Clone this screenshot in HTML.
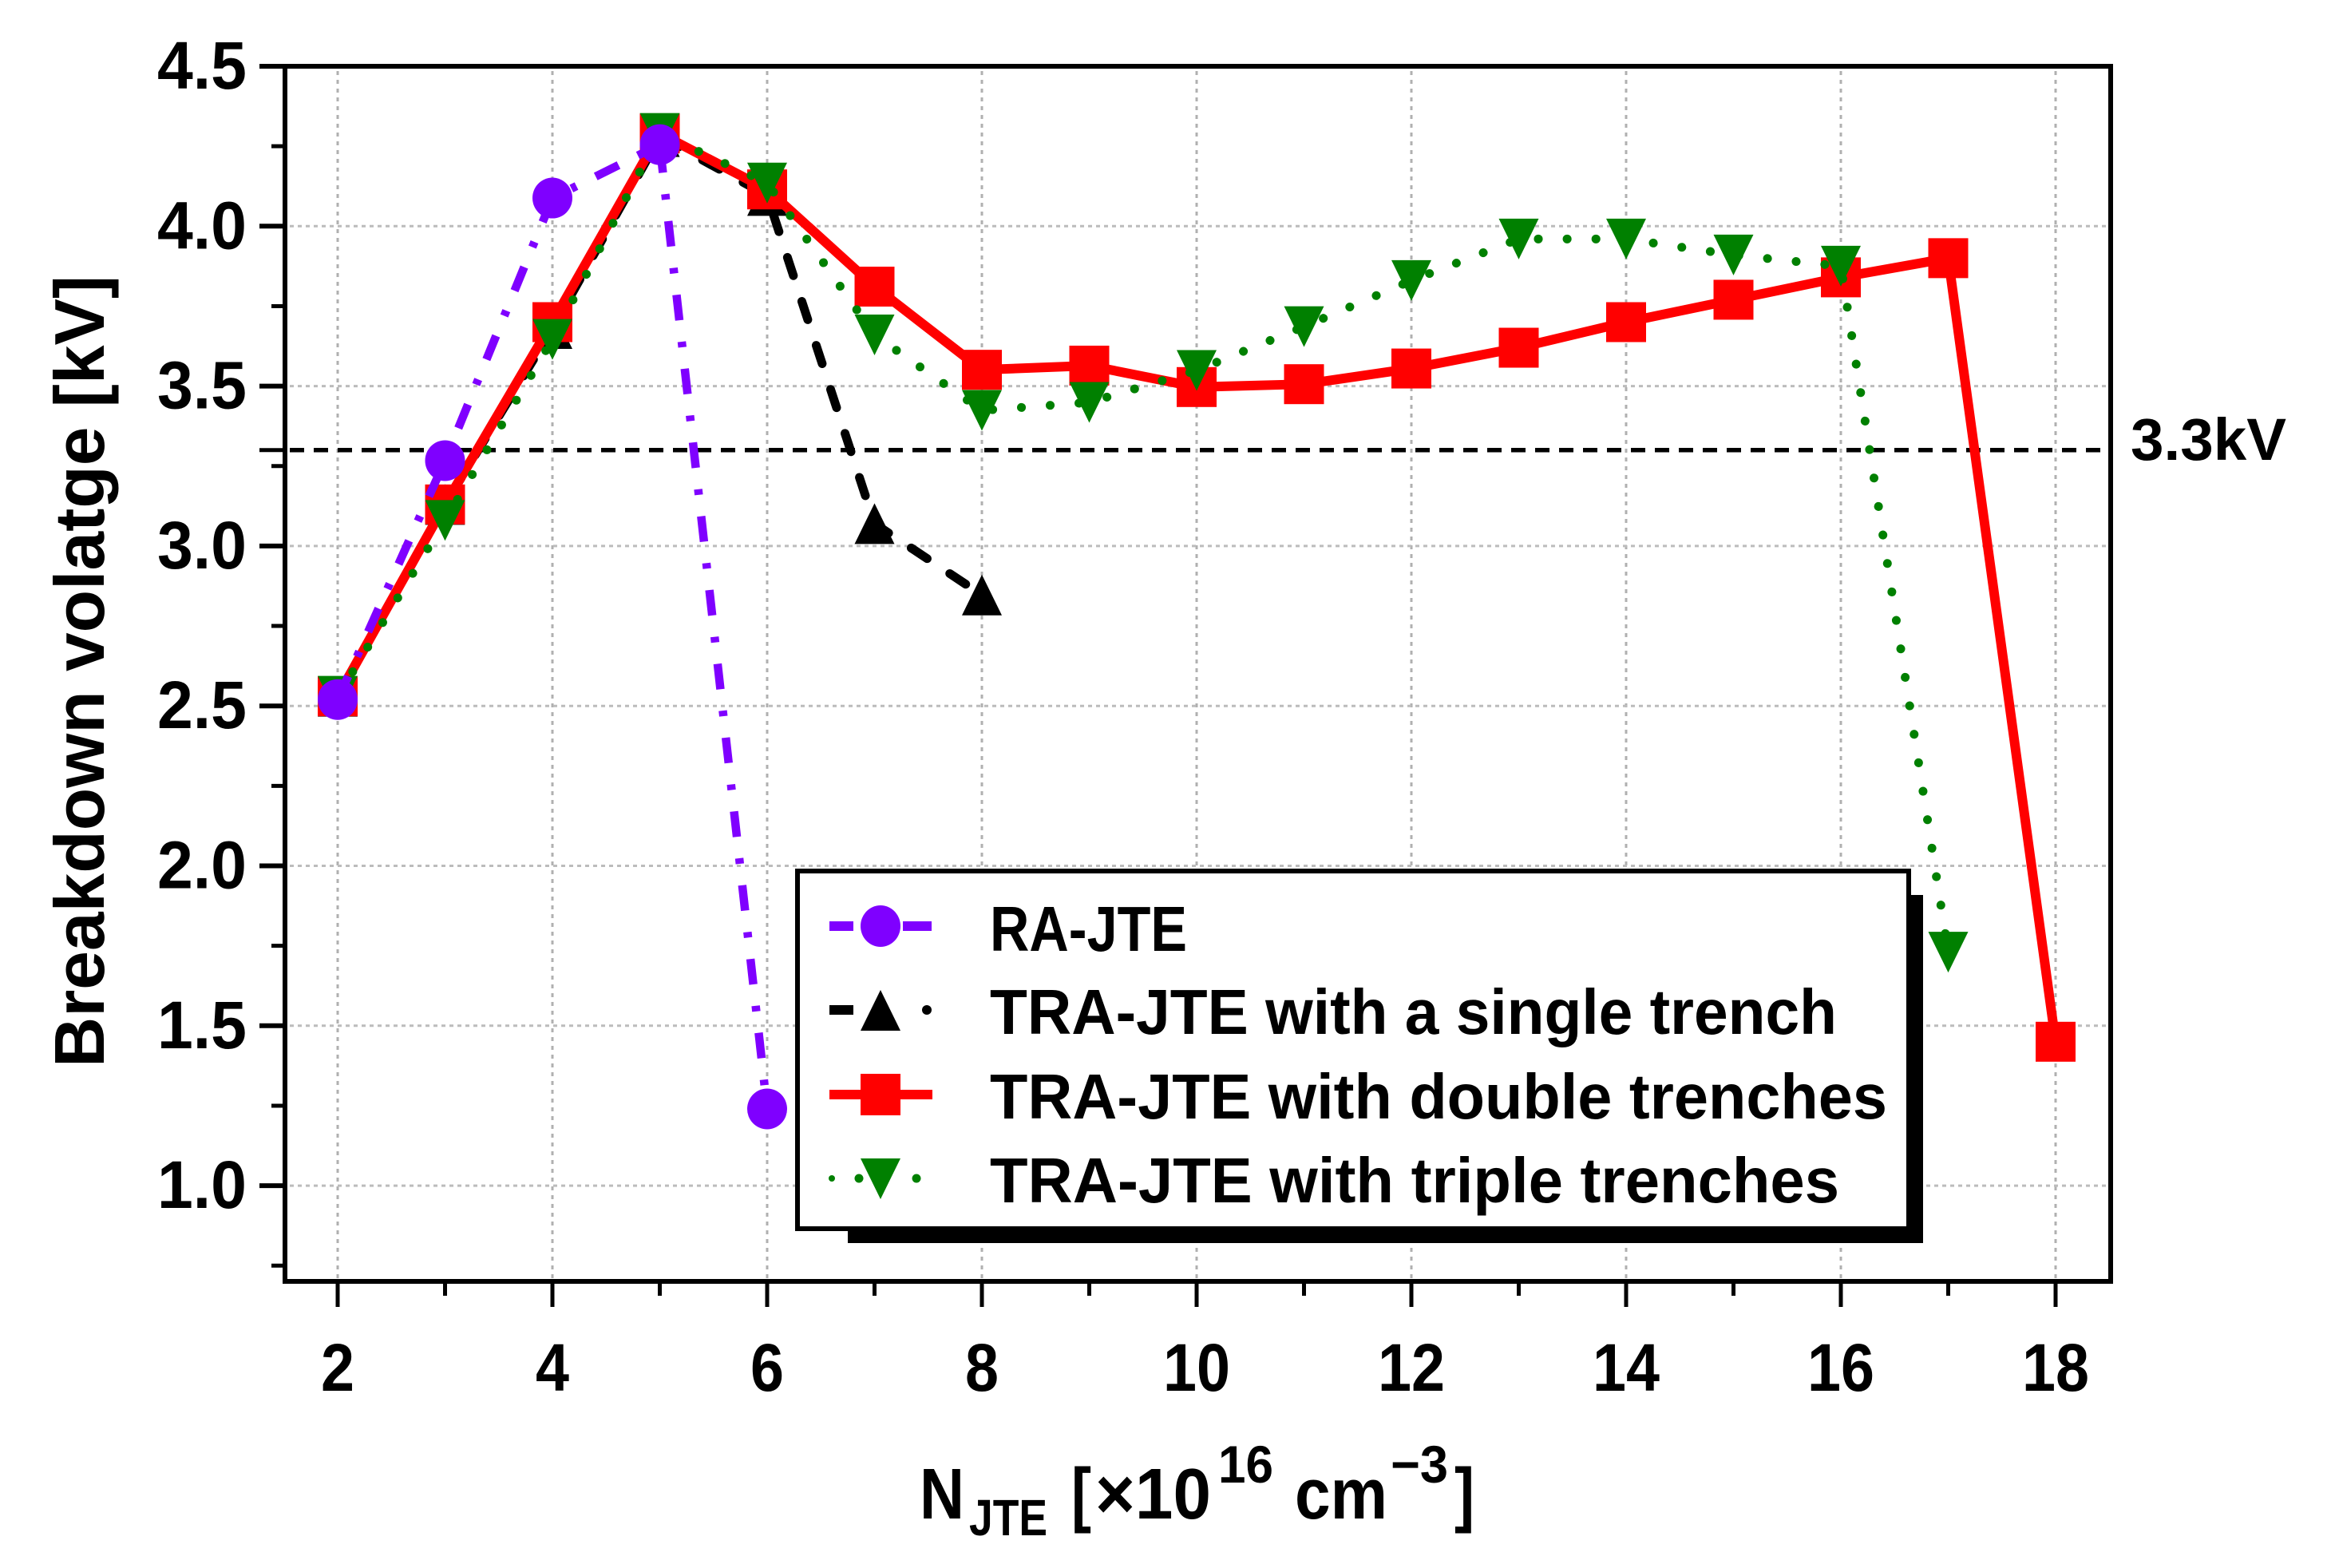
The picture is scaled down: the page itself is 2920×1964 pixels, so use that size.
<!DOCTYPE html>
<html lang="en">
<head>
<meta charset="utf-8">
<title>Breakdown voltage vs NJTE</title>
<style>
html,body{margin:0;padding:0;background:#fff;}
svg{display:block;}
text{font-family:"Liberation Sans",sans-serif;font-weight:700;fill:#000;}
</style>
</head>
<body>
<svg id="chart" xmlns="http://www.w3.org/2000/svg" width="2920" height="1964" viewBox="0 0 2920 1964">
  <rect x="0" y="0" width="2920" height="1964" fill="#fff"/>
  <g id="grid"></g>
  <g id="refline"></g>
  <g id="series"></g>
  <g id="axes"></g>

  <text transform="translate(130 1337) rotate(-90)" font-size="88" textLength="992" lengthAdjust="spacingAndGlyphs">Breakdown volatge [kV]</text>

  <g>
    <text x="1152" y="1902" font-size="90" textLength="56" lengthAdjust="spacingAndGlyphs">N</text>
    <text x="1214" y="1923" font-size="64" textLength="98" lengthAdjust="spacingAndGlyphs">JTE</text>
    <text x="1342" y="1902" font-size="90" textLength="25" lengthAdjust="spacingAndGlyphs">[</text>
    <text x="1372" y="1902" font-size="90" textLength="145" lengthAdjust="spacingAndGlyphs">×10</text>
    <text x="1526" y="1857" font-size="66" textLength="69" lengthAdjust="spacingAndGlyphs">16</text>
    <text x="1622" y="1902" font-size="90" textLength="116" lengthAdjust="spacingAndGlyphs">cm</text>
    <text x="1742" y="1857" font-size="66" textLength="72" lengthAdjust="spacingAndGlyphs">−3</text>
    <text x="1822" y="1902" font-size="90" textLength="25" lengthAdjust="spacingAndGlyphs">]</text>
  </g>

  <text x="2669" y="576" font-size="74" textLength="195" lengthAdjust="spacingAndGlyphs">3.3kV</text>

  <g>
    <rect x="1062" y="1121" width="1347" height="436" fill="#000"/>
    <rect x="999" y="1091" width="1392" height="448" fill="#fff" stroke="#000" stroke-width="6"/>

    <g>
      <line x1="1039" y1="1160" x2="1167" y2="1160" stroke="#7f00ff" stroke-width="12" stroke-dasharray="30 62 36"/>
      <ellipse cx="1103" cy="1160" rx="25" ry="26" fill="#7f00ff"/>
      <text x="1240" y="1191" font-size="80" textLength="247" lengthAdjust="spacingAndGlyphs">RA-JTE</text>
    </g>
    <g>
      <line x1="1039" y1="1265" x2="1167" y2="1265" stroke="#000" stroke-width="12" stroke-dasharray="30 115 8"/>
      <polygon points="1103,1240 1128,1291 1078,1291" fill="#000"/>
      <circle cx="1161" cy="1265" r="6" fill="#000"/>
      <text x="1240" y="1295" font-size="80" textLength="1061" lengthAdjust="spacingAndGlyphs">TRA-JTE with a single trench</text>
    </g>
    <g>
      <line x1="1039" y1="1371" x2="1168" y2="1371" stroke="#f00" stroke-width="12"/>
      <rect x="1078" y="1345" width="50" height="52" fill="#f00"/>
      <text x="1240" y="1401" font-size="80" textLength="1124" lengthAdjust="spacingAndGlyphs">TRA-JTE with double trenches</text>
    </g>
    <g>
      <circle cx="1042" cy="1476" r="4" fill="#008000"/>
      <circle cx="1076" cy="1476" r="5.5" fill="#008000"/>
      <circle cx="1148" cy="1476" r="5.5" fill="#008000"/>
      <polygon points="1078,1451 1128,1451 1103,1502" fill="#008000"/>
      <text x="1240" y="1506" font-size="80" textLength="1064" lengthAdjust="spacingAndGlyphs">TRA-JTE with triple trenches</text>
    </g>
  </g>
</svg>

<script>
const xMajorTicks = [2, 4, 6, 8, 10, 12, 14, 16, 18];
const xMinorTicks = [3, 5, 7, 9, 11, 13, 15, 17];
const yMajorTicks = [1.0, 1.5, 2.0, 2.5, 3.0, 3.5, 4.0, 4.5];
const yMajorLabels = ["1.0", "1.5", "2.0", "2.5", "3.0", "3.5", "4.0", "4.5"];
const yMinorTicks = [0.75, 1.25, 1.75, 2.25, 2.75, 3.25, 3.75, 4.25];
const referenceVoltage = [3.3];

const raJteX = [2, 3, 4, 5, 6];
const raJteV = [2.52, 3.267, 4.088, 4.255, 1.24];
const singleX = [2, 3, 4, 5, 6, 7, 8];
const singleV = [2.53, 3.13, 3.68, 4.28, 4.096, 3.07, 2.847];
const doubleX = [2, 3, 4, 5, 6, 7, 8, 9, 10, 11, 12, 13, 14, 15, 16, 17, 18];
const doubleV = [2.53, 3.13, 3.70, 4.29, 4.115, 3.811, 3.551, 3.564, 3.497, 3.506, 3.555, 3.62, 3.70, 3.77, 3.84, 3.90, 1.45];
const tripleX = [2, 3, 4, 5, 6, 7, 8, 9, 10, 11, 12, 13, 14, 15, 16, 17];
const tripleV = [2.53, 3.08, 3.646, 4.29, 4.135, 3.66, 3.424, 3.449, 3.549, 3.686, 3.83, 3.96, 3.96, 3.91, 3.875, 1.73];

const NS = 'http://www.w3.org/2000/svg';
const plotLeft = 357, plotRight = 2644, plotTop = 83, plotBottom = 1605;
function xScale(n) { return 423 + (n - 2) * 134.5; }
function yScale(v) { return 83 + (4.5 - v) * 400.6; }
function make(tag, parent) {
  const el = document.createElementNS(NS, tag);
  parent.appendChild(el);
  return el;
}
function setLine(el, x1, y1, x2, y2, stroke, width, dash) {
  el.setAttribute('x1', x1);
  el.setAttribute('y1', y1);
  el.setAttribute('x2', x2);
  el.setAttribute('y2', y2);
  el.setAttribute('stroke', stroke);
  el.setAttribute('stroke-width', width);
  if (dash) el.setAttribute('stroke-dasharray', dash);
}
const gridG = document.getElementById('grid');
const refG = document.getElementById('refline');
const seriesG = document.getElementById('series');
const axesG = document.getElementById('axes');

xMajorTicks.forEach(function (n) {
  const el = make('line', gridG);
  
  
  setLine(el, xScale(n), plotTop + 6, xScale(n), plotBottom - 3, '#b0b0b0', 3, '5 6');
});
yMajorTicks.forEach(function (v) {
  const el = make('line', gridG);
  
  
  setLine(el, plotLeft + 6, yScale(v), plotRight - 6, yScale(v), '#bcbcbc', 3, '5 5');
});

referenceVoltage.forEach(function (v) {
  const el = make('line', refG);
  
  
  setLine(el, plotLeft + 6, yScale(v), 2631, yScale(v), '#000', 5.5, '18 12');
});

function drawPath(xs, vs, name, stroke, width, dash, cap) {
  const el = make('polyline', seriesG);
  
  
  el.setAttribute('points', xs.map(function (n, i) { return xScale(n) + ',' + yScale(vs[i]); }).join(' '));
  el.setAttribute('fill', 'none');
  el.setAttribute('stroke', stroke);
  el.setAttribute('stroke-width', width);
  el.setAttribute('stroke-linejoin', 'miter');
  if (dash) el.setAttribute('stroke-dasharray', dash);
  if (cap) el.setAttribute('stroke-linecap', cap);
}
function drawSquares(xs, vs, name, fill) {
  xs.forEach(function (n, i) {
    const el = make('rect', seriesG);
    
    
    el.setAttribute('x', xScale(n) - 25);
    el.setAttribute('y', yScale(vs[i]) - 25);
    el.setAttribute('width', 50);
    el.setAttribute('height', 50);
    el.setAttribute('fill', fill);
  });
}
function drawCircles(xs, vs, name, fill) {
  xs.forEach(function (n, i) {
    const el = make('ellipse', seriesG);
    
    
    el.setAttribute('cx', xScale(n));
    el.setAttribute('cy', yScale(vs[i]));
    el.setAttribute('rx', 25);
    el.setAttribute('ry', 25.5);
    el.setAttribute('fill', fill);
  });
}
function drawTriangles(xs, vs, name, fill, up) {
  xs.forEach(function (n, i) {
    const el = make('polygon', seriesG);
    
    
    const cx = xScale(n), cy = yScale(vs[i]), d = up ? 1 : -1;
    el.setAttribute('points', cx + ',' + (cy - d * 25.5) + ' ' + (cx + 25) + ',' + (cy + d * 25.5) + ' ' + (cx - 25) + ',' + (cy + d * 25.5));
    el.setAttribute('fill', fill);
  });
}

drawPath(singleX, singleV, 'single-trench', '#000', 11, '24 34', 'round');
drawTriangles(singleX, singleV, 'single-trench', '#000', true);
drawPath(doubleX, doubleV, 'double-trenches', '#f00', 12);
drawSquares(doubleX, doubleV, 'double-trenches', '#f00');
drawPath(tripleX, tripleV, 'triple-trenches', '#008000', 11, '0.1 36', 'round');
drawTriangles(tripleX, tripleV, 'triple-trenches', '#008000', false);
drawPath(raJteX, raJteV, 'ra-jte', '#7f00ff', 10.5, '32 27 7 27');
drawCircles(raJteX, raJteV, 'ra-jte', '#7f00ff');

const frame = make('rect', axesG);


frame.setAttribute('x', plotLeft);
frame.setAttribute('y', plotTop);
frame.setAttribute('width', plotRight - plotLeft);
frame.setAttribute('height', plotBottom - plotTop);
frame.setAttribute('fill', 'none');
frame.setAttribute('stroke', '#000');
frame.setAttribute('stroke-width', 6);

xMajorTicks.forEach(function (n) {
  const t = make('line', axesG);
  
  
  setLine(t, xScale(n), plotBottom, xScale(n), 1637, '#000', 5);
  const l = make('text', axesG);
  
  
  l.setAttribute('x', xScale(n));
  l.setAttribute('y', 1742);
  l.setAttribute('font-size', 84);
  l.setAttribute('text-anchor', 'middle');
  l.setAttribute('textLength', String(n).length * 42);
  l.setAttribute('lengthAdjust', 'spacingAndGlyphs');
  l.textContent = String(n);
});
xMinorTicks.forEach(function (n) {
  const t = make('line', axesG);
  
  
  setLine(t, xScale(n), plotBottom, xScale(n), 1623, '#000', 5);
});
yMajorTicks.forEach(function (v, i) {
  const t = make('line', axesG);
  
  
  setLine(t, 325, yScale(v), plotLeft, yScale(v), '#000', 6);
  const l = make('text', axesG);
  
  
  l.setAttribute('x', 309);
  l.setAttribute('y', yScale(v) + 28);
  l.setAttribute('font-size', 84);
  l.setAttribute('text-anchor', 'end');
  l.setAttribute('textLength', 112);
  l.setAttribute('lengthAdjust', 'spacingAndGlyphs');
  l.textContent = yMajorLabels[i];
});
yMinorTicks.forEach(function (v) {
  const t = make('line', axesG);
  
  
  setLine(t, 340, yScale(v), plotLeft, yScale(v), '#000', 5);
});
referenceVoltage.forEach(function (v) {
  const t = make('line', axesG);
  
  
  setLine(t, 325, yScale(v), plotLeft, yScale(v), '#000', 5);
});
</script>
</body>
</html>
